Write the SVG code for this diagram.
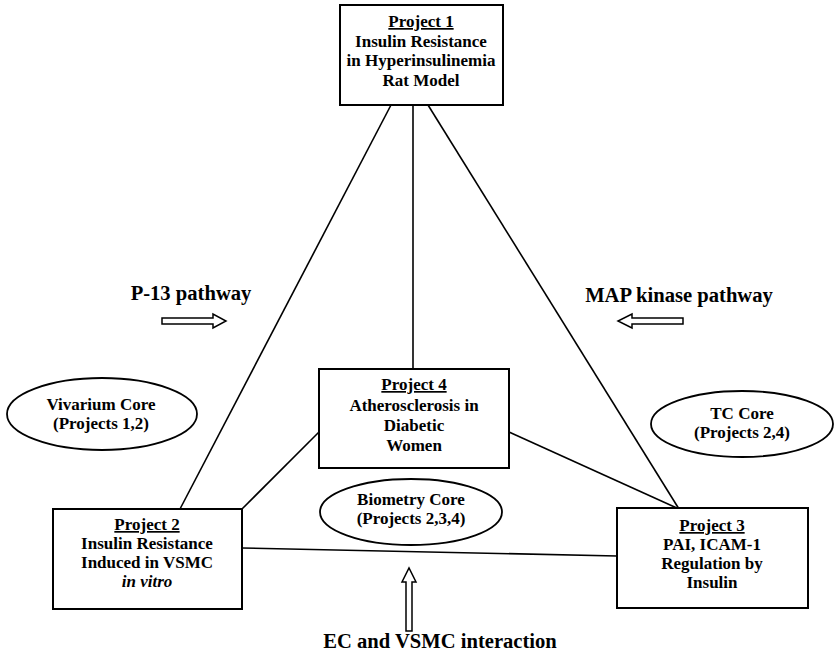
<svg xmlns="http://www.w3.org/2000/svg" width="837" height="665" viewBox="0 0 837 665">
  <style>
    .box { fill: #fff; stroke: #000; stroke-width: 2; }
    .core { fill: #fff; stroke: #000; stroke-width: 1.8; }
    .link { stroke: #000; stroke-width: 1.6; fill: none; }
    .hollow { fill: #fff; stroke: #000; stroke-width: 1.5; stroke-linejoin: miter; }
    text { font-family: "Liberation Serif", "Times New Roman", serif; font-weight: bold; fill: #000; text-anchor: middle; }
    .t { font-size: 17px; }
    .big { font-size: 20.6px; }
    .u { text-decoration: underline; }
    .i { font-style: italic; }
  </style>

  <!-- connectors between projects -->
  <g id="connectors">
    <line class="link" x1="391" y1="105" x2="180" y2="509"/>
    <line class="link" x1="413" y1="105" x2="413" y2="369"/>
    <line class="link" x1="428" y1="105" x2="679" y2="509"/>
    <line class="link" x1="319" y1="432" x2="242" y2="509"/>
    <line class="link" x1="509" y1="432" x2="679" y2="509"/>
    <line class="link" x1="242" y1="548" x2="617" y2="556"/>
  </g>

  <g id="project1">
    <rect class="box" x="340" y="5" width="163" height="100"/>
    <text class="t u" x="421" y="27">Project 1</text>
    <text class="t" x="421" y="47">Insulin Resistance</text>
    <text class="t" x="421" y="66">in Hyperinsulinemia</text>
    <text class="t" x="421" y="86">Rat Model</text>
  </g>

  <g id="project4">
    <rect class="box" x="319" y="369" width="190" height="99"/>
    <text class="t u" x="414" y="390">Project 4</text>
    <text class="t" x="414" y="411">Atherosclerosis in</text>
    <text class="t" x="414" y="431">Diabetic</text>
    <text class="t" x="414" y="451">Women</text>
  </g>

  <g id="project2">
    <rect class="box" x="53" y="509" width="189" height="100"/>
    <text class="t u" x="147" y="530">Project 2</text>
    <text class="t" x="147" y="549">Insulin Resistance</text>
    <text class="t" x="147" y="568">Induced in VSMC</text>
    <text class="t i" x="147" y="587">in vitro</text>
  </g>

  <g id="project3">
    <rect class="box" x="617" y="508" width="191" height="100"/>
    <text class="t u" x="712" y="531">Project 3</text>
    <text class="t" x="712" y="550">PAI, ICAM-1</text>
    <text class="t" x="712" y="569">Regulation by</text>
    <text class="t" x="712" y="588">Insulin</text>
  </g>

  <g id="vivarium-core">
    <ellipse class="core" cx="102" cy="414" rx="95" ry="36"/>
    <text class="t" x="101" y="410">Vivarium Core</text>
    <text class="t" x="101" y="429">(Projects 1,2)</text>
  </g>

  <g id="tc-core">
    <ellipse class="core" cx="742" cy="424" rx="91" ry="33"/>
    <text class="t" x="742" y="419">TC Core</text>
    <text class="t" x="742" y="438">(Projects 2,4)</text>
  </g>

  <g id="biometry-core">
    <ellipse class="core" cx="411" cy="512" rx="91" ry="33"/>
    <text class="t" x="411" y="505">Biometry Core</text>
    <text class="t" x="411" y="524">(Projects 2,3,4)</text>
  </g>

  <g id="p13-pathway">
    <text class="big" x="191" y="300">P-13 pathway</text>
    <polygon class="hollow" points="162,318 213,318 213,314 226,321 213,328 213,324 162,324"/>
  </g>

  <g id="map-kinase-pathway">
    <text class="big" x="679" y="302">MAP kinase pathway</text>
    <polygon class="hollow" points="683,318 632,318 632,314 618,321 632,328 632,324 683,324"/>
  </g>

  <g id="ec-vsmc-interaction">
    <polygon class="hollow" points="406,631 406,582 402,582 409,568 416,582 412,582 412,631"/>
    <text class="big" x="440" y="648">EC and VSMC interaction</text>
  </g>
</svg>
